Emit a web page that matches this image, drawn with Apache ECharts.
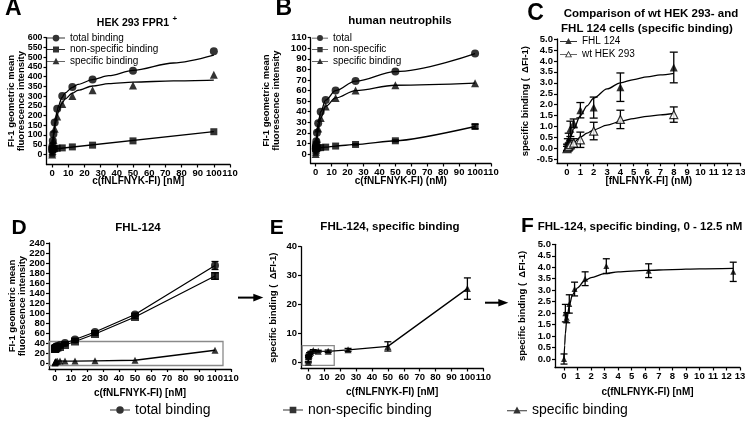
<!DOCTYPE html>
<html><head><meta charset="utf-8">
<script src="https://cdn.jsdelivr.net/npm/echarts@6/dist/echarts.min.js"></script>
<style>html,body{margin:0;padding:0;background:#fff}#c{width:745px;height:422px}</style>
</head><body><div id="c"></div>
<script>
const FONT = '"Liberation Sans", Arial, Helvetica, sans-serif';

// ---------------- data ----------------
const conc = [0, 0.1, 0.2, 0.39, 0.78, 1.56, 3.125, 6.25, 12.5, 25, 50, 100];

// Panel A: HEK 293 FPR1+
const aTotal   = [25, 35, 45, 70, 105, 165, 235, 300, 347, 385, 430, 530];
const aNonSpec = [25, 26, 27, 28, 29, 30, 32, 34, 39, 48, 70, 117];
const aSpec    = [0, 10, 18, 40, 75, 132, 195, 260, 300, 330, 355, 410];
const aFitX      = [0, 0.5, 1, 2, 3, 4, 6, 8, 12.5, 16, 25, 35, 50, 75, 100];
const aTotalFit  = [25, 80, 122, 180, 222, 252, 292, 316, 345, 360, 385, 405, 432, 470, 510];
const aSpecFit   = [0, 55, 98, 157, 196, 225, 262, 285, 315, 330, 352, 364, 372, 378, 382];
const aNonSpecFitX = [0, 100];
const aNonSpecFit  = [27, 118];

// Panel B: human neutrophils
const bTotal   = [5, 7, 9, 12, 20, 29, 40, 51, 60, 69, 78, 95];
const bNonSpec = [5, 5, 5, 5, 5.5, 6, 6, 6.5, 7.5, 9, 12.5, 26];
const bSpec    = [0, 2, 4, 7, 14, 24, 34, 45, 53, 60, 65, 67];
const bNonSpecErr = [0, 0, 0, 0, 0, 0, 0, 0, 0, 0.5, 0.8, 2];

// Panel C: wt HEK 293 vs FHL 124
const cConc   = [0, 0.0625, 0.125, 0.25, 0.5, 1, 2, 4, 8];
const cFHL    = [0.05, 0.2, 0.4, 0.9, 1.15, 1.75, 1.87, 2.8, 3.7];
const cFHLErr = [0.15, 0.25, 0.3, 0.35, 0.2, 0.35, 0.48, 0.65, 0.7];
const cWT     = [0, 0.05, 0.1, 0.18, 0.25, 0.4, 0.8, 1.33, 1.55];
const cWTErr  = [0.1, 0.12, 0.15, 0.2, 0.2, 0.35, 0.4, 0.42, 0.35];
const cFitX   = [0, 0.25, 0.5, 1, 1.5, 2, 3, 4, 5, 6, 7, 8];
const cFHLFit = [0, 0.5, 0.9, 1.5, 1.95, 2.3, 2.72, 3.0, 3.15, 3.27, 3.36, 3.43];
const cWTFit  = [0, 0.13, 0.27, 0.52, 0.7, 0.85, 1.07, 1.24, 1.37, 1.47, 1.54, 1.6];

// Panel D: FHL-124
const dTotal      = [30, 30, 31, 32, 33, 34, 36, 40, 47, 62, 97, 195];
const dNonSpec    = [28, 28, 29, 29.5, 30, 31, 32, 36, 43, 58, 92, 174];
const dSpec       = [0, 2, 1.8, 2.4, 3.05, 3.5, 4.05, 3.85, 3.8, 4.3, 5.5, 25.5];
const dTotalErr   = [1, 1, 1, 1, 1, 1, 1, 1.5, 2, 2.5, 3, 8];
const dNonSpecErr = [1, 1, 1, 1, 1, 1, 1, 1.5, 2, 2.5, 3, 6.5];
const dBox = [-3.8, -5, 105, 43];

// Panel E: FHL-124 specific binding
const eSpec = [0, 2, 1.8, 2.4, 3.05, 3.5, 4.05, 3.85, 3.8, 4.3, 5.5, 25.5];
const eErr  = [0.2, 0.38, 0.22, 0.4, 0.3, 0.3, 0.32, 0.3, 0.42, 0.5, 1.6, 3.7];
const eBox  = [-3.8, -1.1, 16.3, 5.8];

// Panel F: FHL-124 specific binding 0 - 12.5 nM
const fConc = [0, 0.1, 0.2, 0.39, 0.78, 1.56, 3.125, 6.25, 12.5];
const fSpec = [0, 2.0, 1.8, 2.4, 3.05, 3.5, 4.05, 3.85, 3.8];
const fErr  = [0.22, 0.38, 0.22, 0.4, 0.3, 0.3, 0.32, 0.3, 0.42];
const fFitX = [0, 0.05, 0.1, 0.2, 0.4, 0.6, 0.8, 1.0, 1.5, 2, 3, 4, 6, 8, 10, 12.5];
const fFit  = [0, 0.6, 1.1, 1.7, 2.35, 2.75, 2.95, 3.1, 3.4, 3.55, 3.72, 3.8, 3.86, 3.9, 3.93, 3.95];

// tick values
const ticks0to110 = [0, 10, 20, 30, 40, 50, 60, 70, 80, 90, 100, 110];
const ticks0to13  = [0, 1, 2, 3, 4, 5, 6, 7, 8, 9, 10, 11, 12, 13];
const ticksAy = [0, 50, 100, 150, 200, 250, 300, 350, 400, 450, 500, 550, 600];
const ticksBy = [0, 10, 20, 30, 40, 50, 60, 70, 80, 90, 100, 110];
const ticksCy = [-0.5, 0, 0.5, 1, 1.5, 2, 2.5, 3, 3.5, 4, 4.5, 5];
const ticksDy = [0, 20, 40, 60, 80, 100, 120, 140, 160, 180, 200, 220, 240];
const ticksEy = [0, 10, 20, 30, 40];
const ticksFy = [0, 0.5, 1, 1.5, 2, 2.5, 3, 3.5, 4, 4.5, 5];

// ---------------- helpers ----------------
const oneDec = v => Number(v).toFixed(1);
function axisCommon(ticks, fmt, fs) {
  return {
    axisLine: {show: true, onZero: false, lineStyle: {color: '#000', width: 1.3}},
    axisTick: {show: true, inside: false, length: 3, customValues: ticks, lineStyle: {color: '#000', width: 1.2}},
    axisLabel: {show: true, customValues: ticks, margin: 4, fontFamily: FONT, fontSize: fs || 9.5, fontWeight: 'bold', color: '#000',
      hideOverlap: false, formatter: fmt || (v => String(v))},
    splitLine: {show: false}
  };
}
function xAx(gi, min, max, ticks, name, gap, fmt) {
  return Object.assign({type: 'value', gridIndex: gi, min, max, name, nameLocation: 'middle', nameGap: gap,
    nameMoveOverlap: false,
    nameTextStyle: {fontFamily: FONT, fontSize: 10, fontWeight: 'bold', color: '#000'}}, axisCommon(ticks, fmt));
}
function yAx(gi, min, max, ticks, name, gap, fmt, fs) {
  return Object.assign({type: 'value', gridIndex: gi, min, max, name, nameLocation: 'middle', nameGap: gap, nameRotate: 90,
    nameMoveOverlap: false,
    nameTextStyle: {fontFamily: FONT, fontSize: 9.5, fontWeight: 'bold', color: '#000', lineHeight: 10}}, axisCommon(ticks, fmt, fs));
}
function pts(name, gi, xs, ys, symbol, size, open) {
  return {type: 'scatter', name, xAxisIndex: gi, yAxisIndex: gi, silent: true, z: 5,
    data: xs.map((x, i) => [x, ys[i]]), symbol, symbolSize: size,
    itemStyle: open ? {color: '#fff', borderColor: '#000', borderWidth: 1.2} : {color: '#000'}};
}
function curve(gi, xs, ys, smooth) {
  return {type: 'line', xAxisIndex: gi, yAxisIndex: gi, silent: true, z: 3,
    data: xs.map((x, i) => [x, ys[i]]), showSymbol: false, symbol: 'none',
    smooth: smooth || false, smoothMonotone: 'x', lineStyle: {color: '#000', width: 1.3}};
}
function errBars(gi, xs, ys, es, hw) {
  const d = [];
  xs.forEach((x, i) => { if (es[i] > 0) d.push([x, ys[i] - es[i], ys[i] + es[i]]); });
  return {type: 'custom', xAxisIndex: gi, yAxisIndex: gi, clip: false, silent: true, z: 4, data: d,
    renderItem: (params, api) => {
      const lo = api.coord([api.value(0), api.value(1)]);
      const hi = api.coord([api.value(0), api.value(2)]);
      const st = {stroke: '#000', lineWidth: 1.3, fill: null};
      return {type: 'group', children: [
        {type: 'line', shape: {x1: lo[0], y1: lo[1], x2: hi[0], y2: hi[1]}, style: st},
        {type: 'line', shape: {x1: lo[0] - hw, y1: lo[1], x2: lo[0] + hw, y2: lo[1]}, style: st},
        {type: 'line', shape: {x1: hi[0] - hw, y1: hi[1], x2: hi[0] + hw, y2: hi[1]}, style: st}
      ]};
    }};
}
function boxSeries(gi, b) {
  return {type: 'custom', xAxisIndex: gi, yAxisIndex: gi, clip: false, silent: true, z: 2, data: [b],
    renderItem: (params, api) => {
      const p0 = api.coord([api.value(0), api.value(1)]);
      const p1 = api.coord([api.value(2), api.value(3)]);
      return {type: 'rect', shape: {x: Math.min(p0[0], p1[0]), y: Math.min(p0[1], p1[1]),
        width: Math.abs(p1[0] - p0[0]), height: Math.abs(p1[1] - p0[1])},
        style: {stroke: '#8a8a8a', lineWidth: 1.3, fill: null}};
    }};
}
function arrow(x1, x2, y) {
  return {type: 'group', children: [
    {type: 'line', shape: {x1: x1, y1: y, x2: x2 - 8, y2: y}, style: {stroke: '#000', lineWidth: 2}},
    {type: 'polygon', shape: {points: [[x2 - 10, y - 3.8], [x2, y], [x2 - 10, y + 3.8]]}, style: {fill: '#000'}}
  ]};
}
function txt(x, y, s, size, align) {
  return {type: 'text', x, y, style: {text: s, font: 'bold ' + size + 'px ' + FONT, fill: '#000',
    textAlign: align || 'center', textVerticalAlign: 'middle'}};
}

// legend icons (line + marker)
const icoCircle = 'path://M0,4.4L24,4.4L24,5.6L0,5.6Z M7.5,5A4.5,4.5 0 1 1 16.5,5A4.5,4.5 0 1 1 7.5,5Z';
const icoSquare = 'path://M0,4.4L24,4.4L24,5.6L0,5.6Z M8,1L16,1L16,9L8,9Z';
const icoTri    = 'path://M0,5.4L24,5.4L24,6.6L0,6.6Z M12,1L16.5,9.5L7.5,9.5Z';
const icoTriOpen = 'path://M0,5.4L9.3,5.4L9.3,6.6L0,6.6Z M14.7,5.4L24,5.4L24,6.6L14.7,6.6Z M12,0.5L17,9.8L7,9.8Z M12,3L9,8.6L15,8.6Z';

function legendBox(items, left, top, opts) {
  return Object.assign({show: true, orient: 'vertical', left, top, padding: 0, itemGap: 0,
    itemWidth: 18, itemHeight: 8, selectedMode: false,
    itemStyle: {color: '#000', borderWidth: 0, borderColor: '#000'},
    textStyle: {fontFamily: FONT, fontSize: 10, color: '#000', lineHeight: 11.5},
    data: items}, opts || {});
}

const grids = [
  {left: 46.5, top: 37.7, width: 183.5, height: 126.8},
  {left: 310.7, top: 37.7, width: 180.3, height: 125.8},
  {left: 557, top: 39, width: 183.5, height: 124.3},
  {left: 49, top: 243, width: 182, height: 126},
  {left: 301, top: 246.7, width: 182.3, height: 121.8},
  {left: 555, top: 244.3, width: 185, height: 123.2}
].map(g => Object.assign(g, {containLabel: false, outerBoundsMode: 'none'}));

const option = {
  animation: false,
  backgroundColor: '#fff',
  textStyle: {fontFamily: FONT},
  grid: grids,
  xAxis: [
    xAx(0, -3.5, 110, ticks0to110, 'c(fNLFNYK-FI) [nM]', 12),
    xAx(1, -3.14, 110, ticks0to110, 'c(fNLFNYK-FI) (nM)', 13),
    xAx(2, -0.75, 13, ticks0to13, '[fNLFNYK-FI] (nM)', 13),
    xAx(3, -3.75, 110, ticks0to110, 'c(fNLFNYK-FI) [nM]', 19),
    xAx(4, -4.59, 110, ticks0to110, 'c(fNLFNYK-FI) [nM]', 19),
    xAx(5, -0.665, 13, ticks0to13, 'c(fNLFNYK-FI) [nM]', 20)
  ],
  yAxis: [
    yAx(0, -51.4, 600, ticksAy, 'FI-1 geometric mean\nfluorescence intensity', 20, null, 8.8),
    yAx(1, -9, 110, ticksBy, 'FI-1 geometric mean\nfluorescence intensity', 29),
    yAx(2, -0.673, 5, ticksCy, 'specific binding (  \u0394FI-1)', 27, oneDec),
    yAx(3, -12, 240, ticksDy, 'FI-1 geometric mean\nfluorescence intensity', 22),
    yAx(4, -2.15, 40, ticksEy, 'specific binding (  \u0394FI-1)', 23),
    yAx(5, -0.37, 5, ticksFy, 'specific binding (  \u0394FI-1)', 28, oneDec)
  ],
  legend: [
    legendBox([{name: 'total binding', icon: icoCircle}, {name: 'non-specific binding', icon: icoSquare}, {name: 'specific binding', icon: icoTri}], 47, 32.3),
    legendBox([{name: 'total', icon: icoCircle}, {name: 'non-specific', icon: icoSquare}, {name: 'specific binding', icon: icoTri}], 312, 32.3, {itemWidth: 16}),
    legendBox([{name: 'FHL 124', icon: icoTri}, {name: 'wt HEK 293', icon: icoTriOpen}], 560, 34.5, {itemWidth: 17, textStyle: {fontFamily: FONT, fontSize: 10, color: '#000', lineHeight: 13}}),
    legendBox([{name: 'total binding', icon: icoCircle}], 110, 402, {itemWidth: 20, itemHeight: 10, textStyle: {fontFamily: FONT, fontSize: 14, color: '#000', lineHeight: 16}}),
    legendBox([{name: 'non-specific binding', icon: icoSquare}], 283, 402, {itemWidth: 20, itemHeight: 10, textStyle: {fontFamily: FONT, fontSize: 14, color: '#000', lineHeight: 16}}),
    legendBox([{name: 'specific binding', icon: icoTri}], 507, 402, {itemWidth: 20, itemHeight: 10, textStyle: {fontFamily: FONT, fontSize: 14, color: '#000', lineHeight: 16}})
  ],
  series: [
    // A
    pts('total binding', 0, conc, aTotal, 'circle', 8),
    pts('non-specific binding', 0, conc, aNonSpec, 'rect', 7),
    pts('specific binding', 0, conc, aSpec, 'triangle', 8),
    curve(0, aFitX, aTotalFit, 0.3),
    curve(0, aFitX, aSpecFit, 0.3),
    curve(0, aNonSpecFitX, aNonSpecFit),
    // B
    pts('total', 1, conc, bTotal, 'circle', 8),
    pts('non-specific', 1, conc, bNonSpec, 'rect', 7),
    pts('specific binding', 1, conc, bSpec, 'triangle', 8),
    curve(1, conc, bTotal, 0.35),
    curve(1, conc, bNonSpec, 0.2),
    curve(1, conc, bSpec, 0.35),
    errBars(1, conc, bNonSpec, bNonSpecErr, 3.5),
    // C
    pts('FHL 124', 2, cConc, cFHL, 'triangle', 8),
    pts('wt HEK 293', 2, cConc, cWT, 'triangle', 8, true),
    curve(2, cFitX, cFHLFit, 0.3),
    curve(2, cFitX, cWTFit, 0.3),
    errBars(2, cConc, cFHL, cFHLErr, 4),
    errBars(2, cConc, cWT, cWTErr, 4),
    // D
    boxSeries(3, dBox),
    pts('total binding', 3, conc, dTotal, 'circle', 8),
    pts('non-specific binding', 3, conc, dNonSpec, 'rect', 8),
    pts('specific binding', 3, conc, dSpec, 'triangle', 7),
    curve(3, conc, dTotal),
    curve(3, conc, dNonSpec),
    curve(3, conc, dSpec),
    errBars(3, conc, dTotal, dTotalErr, 3.5),
    errBars(3, conc, dNonSpec, dNonSpecErr, 3.5),
    // E
    boxSeries(4, eBox),
    pts('specific binding', 4, conc, eSpec, 'triangle', 7),
    curve(4, conc, eSpec),
    errBars(4, conc, eSpec, eErr, 3.5),
    // F
    pts('specific binding', 5, fConc, fSpec, 'triangle', 6),
    curve(5, fFitX, fFit, 0.3),
    errBars(5, fConc, fSpec, fErr, 3.5)
  ],
  graphic: [
    txt(13.3, 8.5, 'A', 23), txt(283.7, 8.5, 'B', 23), txt(535.5, 13.3, 'C', 23),
    txt(19.2, 228.3, 'D', 21), txt(276.7, 227.8, 'E', 21), txt(527.5, 226.7, 'F', 21),
    txt(133, 23, 'HEK 293 FPR1', 10.5), txt(172.5, 19, '+', 8, 'left'),
    txt(400, 21, 'human neutrophils', 11.5),
    txt(651, 13.5, 'Comparison of wt HEK 293- and', 11.5),
    txt(647, 28.5, 'FHL 124 cells (specific binding)', 11.5),
    txt(138, 228, 'FHL-124', 11.5),
    txt(390, 227, 'FHL-124, specific binding', 11.5),
    txt(640, 227, 'FHL-124, specific binding, 0 - 12.5 nM', 11.5),
    arrow(238, 263.3, 297.6),
    arrow(485, 508.3, 302.7)
  ]
};

const chart = echarts.init(document.getElementById('c'), null, {renderer: 'canvas'});
chart.setOption(option);
</script>
</body></html>
